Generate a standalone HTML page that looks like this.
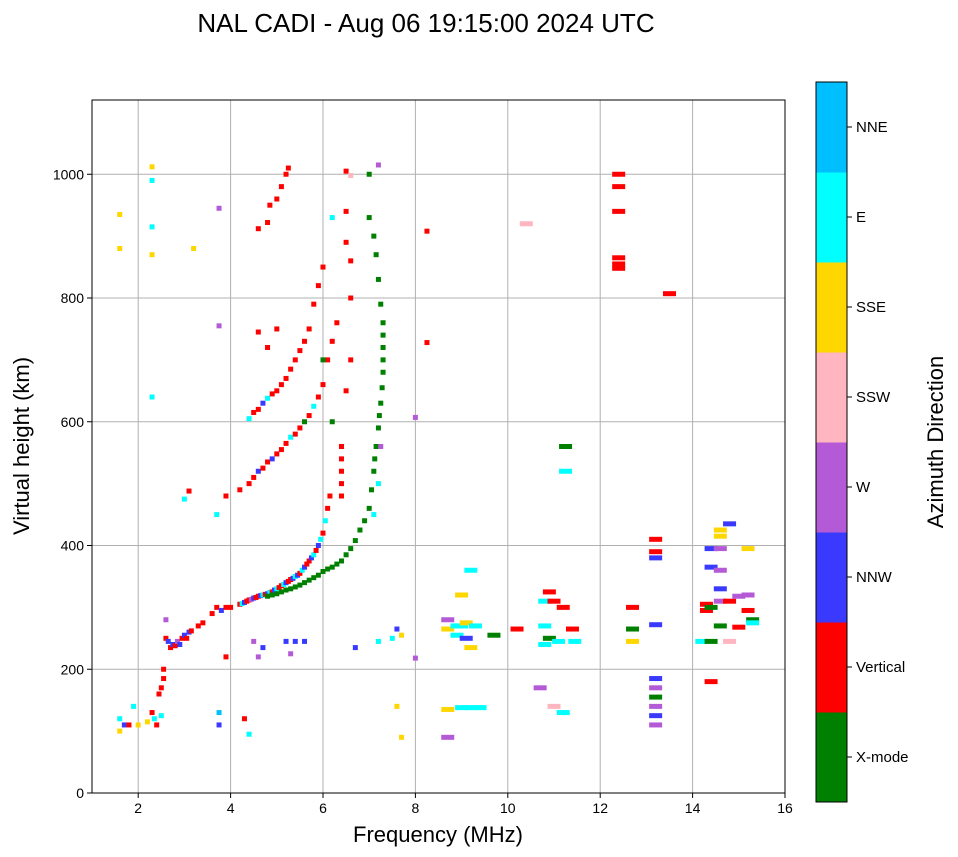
<!DOCTYPE html>
<html><head><meta charset="utf-8">
<style>
html,body{margin:0;padding:0;background:#fff;}
svg{display:block;font-family:"Liberation Sans","DejaVu Sans",sans-serif;}
</style></head>
<body>
<svg id="chart" width="958" height="857" viewBox="0 0 958 857">
<text x="426" y="32" text-anchor="middle" font-size="26" fill="#000">NAL CADI - Aug 06 19:15:00 2024 UTC</text>
<g id="grid"></g>
<g id="marks"></g>
<rect x="92" y="100" width="693" height="693" fill="none" stroke="#000" stroke-width="1"/>
<g id="axes"></g>
<text x="438" y="842" text-anchor="middle" font-size="22">Frequency (MHz)</text>
<text transform="translate(29,446) rotate(-90)" text-anchor="middle" font-size="22">Virtual height (km)</text>
<g id="cbar"></g>
<text transform="translate(943,442) rotate(-90)" text-anchor="middle" font-size="22">Azimuth Direction</text>
</svg>
<script>
const xTicks=[2,4,6,8,10,12,14,16];
const yTicks=[0,200,400,600,800,1000];
const dirLabels=["X-mode","Vertical","NNW","W","SSW","SSE","E","NNE"];
const dirColors=["#008000","#ff0000","#3a3aff","#b45ad6","#ffb6c1","#ffd700","#00ffff","#00bfff"];
const lowerTrace=[[2.45,160,1],[2.5,170,1],[2.55,185,1],[2.55,200,1],[2.6,250,1],[2.6,280,3],[2.65,245,2],[2.7,235,1],[2.75,240,2],[2.8,238,1],[2.85,245,3],[2.9,240,2],[2.95,250,1],[3.0,255,2],[3.05,250,1],[3.1,260,2],[3.15,262,1],[3.3,270,1],[3.4,275,1],[3.6,290,1],[3.7,300,1],[3.8,295,2],[3.9,300,1],[4.0,300,1],[4.2,305,1],[4.25,306,6],[4.3,308,2],[4.35,310,1],[4.4,312,1],[4.45,313,3],[4.5,315,2],[4.55,316,1],[4.6,318,1],[4.65,319,2],[4.7,320,6],[4.75,321,1],[4.8,322,2],[4.85,324,6],[4.9,325,1],[4.95,328,2],[5.0,330,6],[5.05,332,1],[5.1,335,1],[5.15,337,6],[5.2,340,2],[5.25,342,1],[5.3,345,1],[5.35,347,2],[5.4,350,6],[5.45,352,2],[5.5,355,1],[5.55,360,6],[5.6,365,2],[5.65,370,1],[5.7,375,1],[5.75,380,2],[5.8,385,6],[5.85,392,1],[5.9,400,2],[5.95,410,6],[6.0,420,1],[6.05,440,6],[6.1,460,1],[6.15,480,1]];
const xModeTrace=[[4.8,318,0],[4.9,320,0],[5.0,322,0],[5.1,325,0],[5.2,328,0],[5.3,330,0],[5.4,333,0],[5.5,336,0],[5.6,340,0],[5.7,344,0],[5.8,348,0],[5.9,352,0],[6.0,358,0],[6.1,362,0],[6.2,365,0],[6.3,370,0],[6.4,375,0],[6.5,385,0],[6.6,395,0],[6.7,408,0],[6.8,425,0],[6.9,440,0],[7.0,460,0],[7.05,490,0],[7.1,520,0],[7.12,540,0],[7.15,560,0],[7.2,590,0],[7.22,610,0],[7.25,630,0],[7.28,655,0],[7.3,680,0],[7.3,700,0],[7.3,720,0],[7.3,740,0],[7.3,760,0],[7.25,790,0],[7.2,830,0],[7.15,870,0],[7.1,900,0],[7.0,930,0],[7.25,560,3],[7.2,500,6],[7.1,450,6]];
const secondHop=[[4.2,490,1],[4.4,500,1],[4.5,510,1],[4.6,520,2],[4.7,525,1],[4.8,535,1],[4.9,540,2],[5.0,548,1],[5.1,555,1],[5.2,565,1],[5.3,575,6],[5.4,580,1],[5.5,590,1],[5.6,600,0],[5.7,610,1],[5.8,625,6],[5.9,640,1],[6.0,660,1],[6.1,700,1],[6.2,730,1],[6.3,760,1],[6.4,540,1],[6.4,560,1],[6.4,520,1],[6.4,500,1],[6.4,480,1],[6.2,600,0],[6.5,650,1],[6.6,700,1],[6.6,800,1],[6.6,860,1],[6.5,890,1],[6.5,940,1]];
const thirdHop=[[4.4,605,6],[4.5,615,1],[4.6,620,1],[4.7,630,2],[4.8,638,6],[4.9,645,1],[5.0,650,1],[5.1,660,1],[5.2,670,1],[5.3,685,1],[5.4,700,1],[5.5,715,1],[5.6,730,1],[5.7,750,1],[5.8,790,1],[5.9,820,1],[6.0,850,1],[6.0,700,0],[4.6,745,1],[4.8,720,1],[5.0,750,1],[4.6,912,1],[4.8,922,1],[4.85,950,1],[5.0,960,1],[5.1,980,1],[5.2,1000,1],[5.25,1010,1],[6.2,930,6],[6.5,1005,1],[6.6,998,4],[7.2,1015,3],[7.0,1000,0]];
const scatterLow=[[1.6,100,5],[1.6,120,6],[1.7,110,2],[1.8,110,1],[1.9,140,6],[2.0,110,5],[2.2,115,5],[2.3,130,1],[2.35,120,6],[2.4,110,1],[2.5,125,6],[2.3,990,6],[2.3,1012,5],[2.3,915,6],[2.3,870,5],[2.3,640,6],[1.6,935,5],[1.6,880,5],[3.2,880,5],[3.75,945,3],[3.75,755,3],[3.7,450,6],[3.9,480,1],[3.9,220,1],[3.75,130,7],[3.75,110,2],[4.3,120,1],[4.4,95,6],[4.5,245,3],[4.6,220,3],[4.7,235,2],[5.2,245,2],[5.4,245,2],[5.6,245,2],[5.3,225,3],[6.7,235,2],[7.2,245,6],[7.5,250,6],[7.6,265,2],[7.7,255,5],[7.6,140,5],[7.7,90,5],[8.0,218,3],[8.0,607,3],[8.25,728,1],[8.25,908,1],[3.1,488,1],[3.0,475,6]];
const scatterHigh=[[8.7,135,5],[8.7,90,3],[8.7,280,3],[8.7,265,5],[8.9,270,6],[8.9,255,6],[9.0,270,6],[9.1,275,5],[9.1,250,2],[9.2,235,5],[9.3,270,6],[9.2,360,6],[9.0,320,5],[9.0,138,6],[9.2,138,6],[9.4,138,6],[9.7,255,0],[10.2,265,1],[10.4,920,4],[10.7,170,3],[10.8,310,6],[10.8,270,6],[10.9,250,0],[10.8,240,6],[10.9,325,1],[11.0,310,1],[11.1,245,6],[11.2,300,1],[11.2,130,6],[11.0,140,4],[11.25,560,0],[11.25,520,6],[11.4,265,1],[11.45,245,6],[12.4,1000,1],[12.4,980,1],[12.4,940,1],[12.4,865,1],[12.4,855,1],[12.4,848,1],[13.5,807,1],[12.7,300,1],[12.7,265,0],[12.7,245,5],[13.2,410,1],[13.2,390,1],[13.2,380,2],[13.2,272,2],[13.2,185,2],[13.2,170,3],[13.2,155,0],[13.2,140,3],[13.2,125,2],[13.2,110,3],[14.2,245,6],[14.3,305,1],[14.3,295,1],[14.4,395,2],[14.4,365,2],[14.4,300,0],[14.4,245,0],[14.4,180,1],[14.6,425,5],[14.6,415,5],[14.6,395,3],[14.6,360,3],[14.6,330,2],[14.6,310,3],[14.6,270,0],[14.8,310,1],[14.8,435,2],[14.8,245,4],[15.0,318,3],[15.0,268,1],[15.2,395,5],[15.2,320,3],[15.3,280,0],[15.3,275,6],[15.2,295,1]];

const NS="http://www.w3.org/2000/svg";
const X0=92,X1=785,Y0=793,Y1=100;
function xs(f){return X0+(f-1)/(16-1)*(X1-X0);}
function ys(h){return Y0-h/1120*(Y0-Y1);}
function mk(tag,attrs,parent){const e=document.createElementNS(NS,tag);for(const k in attrs)e.setAttribute(k,attrs[k]);parent.appendChild(e);return e;}
const grid=document.getElementById('grid'),axes=document.getElementById('axes');
xTicks.forEach(t=>{const x=xs(t);
 if(t<16){const g=mk('line',{x1:x,x2:x,y1:Y1,y2:Y0,stroke:'#b0b0b0','stroke-width':1},grid);
 
 }
 const tk=mk('line',{x1:x,x2:x,y1:Y0,y2:Y0+5,stroke:'#000'},axes);
 
 
 const l=mk('text',{x:x,y:Y0+20,'text-anchor':'middle','font-size':14},axes);l.textContent=t;
 
 
});
yTicks.forEach(t=>{const y=ys(t);
 if(t>0){const g=mk('line',{x1:X0,x2:X1,y1:y,y2:y,stroke:'#b0b0b0','stroke-width':1},grid);
 
 }
 const tk=mk('line',{x1:X0-5,x2:X0,y1:y,y2:y,stroke:'#000'},axes);
 
 
 const l=mk('text',{x:X0-8,y:y+5,'text-anchor':'end','font-size':14},axes);l.textContent=t;
 
 
});
const marks=document.getElementById('marks');
[lowerTrace,xModeTrace,secondHop,thirdHop,scatterLow,scatterHigh].forEach(arr=>{
 arr.forEach(p=>{const w=p[0]>8.5?13:5;
  const r=mk('rect',{x:xs(p[0])-w/2,y:ys(p[1])-2.5,width:w,height:5,fill:dirColors[p[2]]},marks);
  
  
 });
});
const cbar=document.getElementById('cbar');
const CB0=802,CB1=82,segH=(CB0-CB1)/dirLabels.length;
dirLabels.forEach((lab,i)=>{const y=CB0-(i+1)*segH;
 const r=mk('rect',{x:816,y:y,width:31,height:segH+0.5,fill:dirColors[i]},cbar);
 
 
 const tk=mk('line',{x1:847,x2:852,y1:y+segH/2,y2:y+segH/2,stroke:'#000'},cbar);
 
 
 const t=mk('text',{x:856,y:y+segH/2+5,'font-size':15},cbar);t.textContent=lab;
 
 
});
const fr=mk('rect',{x:816,y:CB1,width:31,height:CB0-CB1,fill:'none',stroke:'#000'},cbar);


</script>
</body></html>
